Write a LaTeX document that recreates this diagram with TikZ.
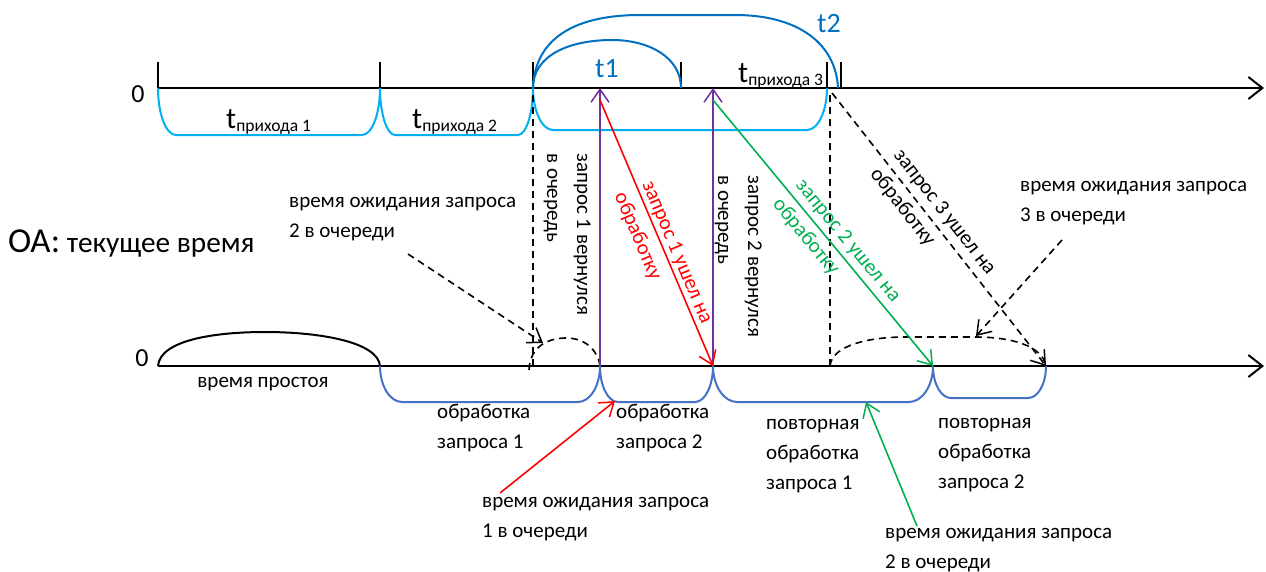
\documentclass[tikz,border=0pt]{standalone}
\usepackage{fontspec}
\setmainfont{Carlito}
\usetikzlibrary{arrows.meta}
\definecolor{lblue}{RGB}{0,176,240}
\definecolor{dblue}{RGB}{0,112,192}
\definecolor{sblue}{RGB}{68,114,196}
\definecolor{purp}{RGB}{112,48,160}
\definecolor{grn}{RGB}{0,176,80}
\definecolor{rd}{RGB}{255,0,0}
\newcommand{\mlt}[1]{\begin{tabular}[t]{@{}l@{}}#1\end{tabular}}
\newcommand{\tsub}[1]{{\fontsize{30}{30}\selectfont t}{\fontsize{17.5}{17.5}\selectfont\raisebox{-3pt}{#1}}}
\begin{document}
\begin{tikzpicture}[x=1pt,y=-1pt,
  txt/.style={inner sep=0pt,font=\fontsize{21}{30}\selectfont},
  big/.style={inner sep=0pt,font=\fontsize{26}{26}\selectfont},
  tlab/.style={inner sep=0pt,font=\fontsize{28}{28}\selectfont,text=dblue},
  axisline/.style={line width=2pt,-{Straight Barb[length=14pt,width=22pt,line width=2pt]}},
  tickline/.style={line width=2pt},
  tip/.style={-{Straight Barb[length=13pt,width=18pt,line width=1.5pt]}},
  dashln/.style={line width=1.6pt,dash pattern=on 7pt off 5pt},
  lbr/.style={draw=lblue,line width=2pt},
  sbr/.style={draw=sblue,line width=2pt},
  tarc/.style={draw=dblue,line width=2pt},
]
\useasboundingbox (0,0) rectangle (1266,571);

% ---------- top axis ----------
\coordinate (ta0) at (158,88);
\coordinate (ta1) at (1264,88);
\draw[axisline] (ta0) -- (ta1);
\foreach \x in {158,380,533,681,827,841} \draw[tickline] (\x,62) -- (\x,88);
\node[big,anchor=base] (zeroA) at (138,102) {0};

% arrival intervals
\draw[lbr] (158,88) .. controls (158,114) and (166,135) .. (176,135) -- (362,135) .. controls (372,135) and (380,114) .. (380,88);
\draw[lbr] (380,88) .. controls (380,114) and (387,135) .. (395,135) -- (518,135) .. controls (526,135) and (533,114) .. (533,88);
\draw[lbr] (533,88) .. controls (533,111) and (542,130) .. (553,130) -- (807,130) .. controls (818,130) and (827,111) .. (827,88);
\node[inner sep=0pt,anchor=base west] (tp1) at (226,128) {\tsub{прихода 1}};
\node[inner sep=0pt,anchor=base west] (tp2) at (412,128) {\tsub{прихода 2}};
\node[inner sep=0pt,anchor=base west] (tp3) at (738,82) {\tsub{прихода 3}};

% t1, t2 arcs
\draw[tarc] (533,88) .. controls (533,55) and (570,40) .. (612,40) .. controls (650,40) and (681,58) .. (681,88);
\draw[tarc] (533,88) .. controls (535,35) and (580,15) .. (640,15) -- (735,15) .. controls (800,15) and (836,45) .. (838,88);
\node[tlab,anchor=base] (t1) at (607,77) {t1};
\node[tlab,anchor=base] (t2) at (829,32) {t2};

% ---------- bottom axis ----------
\coordinate (ba0) at (158,366);
\coordinate (ba1) at (1264,366);
\draw[axisline] (ba0) -- (ba1);
\node[big,anchor=base] (zeroB) at (142,366) {0};

\draw[line width=2pt] (158,366) .. controls (160,340) and (215,332) .. (265,332) .. controls (320,332) and (378,342) .. (380,366);
\node[txt,anchor=base] (idle) at (263,387) {время простоя};

\draw[sbr] (380,366) .. controls (380,386) and (390,402) .. (402,402) -- (578,402) .. controls (590,402) and (600,386) .. (600,366);
\draw[sbr] (600,366) .. controls (600,386) and (608,402) .. (618,402) -- (695,402) .. controls (705,402) and (713,386) .. (713,366);
\draw[sbr] (713,366) .. controls (713,386) and (724,402) .. (737,402) -- (909,402) .. controls (922,402) and (933,386) .. (933,366);
\draw[sbr] (933,366) .. controls (933,384) and (941,398) .. (951,398) -- (1028,398) .. controls (1038,398) and (1046,384) .. (1046,366);

\node[txt,anchor=base west] (p1) at (437,418) {\mlt{обработка\\запроса 1}};
\node[txt,anchor=base west] (p2) at (616,418) {\mlt{обработка\\запроса 2}};
\node[txt,anchor=base west] (p3) at (766,429) {\mlt{повторная\\обработка\\запроса 1}};
\node[txt,anchor=base west] (p4) at (938,428) {\mlt{повторная\\обработка\\запроса 2}};

% waiting arcs (dashed)
\draw[dashln] (529,370) .. controls (530,345) and (550,338) .. (566,338) .. controls (585,338) and (598,350) .. (600,366);
\draw[dashln] (830,366) .. controls (832,345) and (870,337) .. (905,337) -- (975,337) .. controls (1010,337) and (1042,345) .. (1046,366);

% ---------- title ----------
\node[inner sep=0pt,anchor=base west] (oa) at (8,252) {{\fontsize{35}{35}\selectfont ОА:}{\fontsize{29.3}{29.3}\selectfont\ текущее время}};

% ---------- connectors between axes ----------
\coordinate (q1top) at (533,95);
\coordinate (q1bot) at (533,366);
\coordinate (q3top) at (830,95);
\coordinate (q3bot) at (830,366);
\draw[dashln] (q1top) -- (q1bot);
\draw[dashln] (q3top) -- (q3bot);

\coordinate (r1b) at (600,366);
\coordinate (r1t) at (600,88);
\coordinate (r2b) at (713,366);
\coordinate (r2t) at (713,88);
\draw[purp,line width=1.6pt,tip] (r1b) -- (r1t);
\draw[purp,line width=1.6pt,tip] (r2b) -- (r2t);

\node[txt,rotate=-90,anchor=base west] (ret1) at (577,153) {\mlt{запрос 1 вернулся\\в очередь}};
\node[txt,rotate=-90,anchor=base west] (ret2) at (748,175) {\mlt{запрос 2 вернулся\\в очередь}};

\coordinate (s1a) at (600,100);
\coordinate (s1b) at (713,366);
\draw[rd,line width=1.6pt,tip] (s1a) -- (s1b);
\node[txt,text=rd,rotate=-67,anchor=base west] (l1) at (642,184) {\mlt{запрос 1 ушел на\\обработку}};

\coordinate (s2a) at (713,100);
\coordinate (s2b) at (933,366);
\draw[grn,line width=1.6pt,tip] (s2a) -- (s2b);
\node[txt,text=grn,rotate=-50.4,anchor=base west] (l2) at (795,185.5) {\mlt{запрос 2 ушел на\\обработку}};

\coordinate (s3a) at (832,93);
\coordinate (s3b) at (1046,366);
\draw[dashln,tip] (s3a) -- (s3b);
\node[txt,rotate=-51.9,anchor=base west] (l3) at (893,155.5) {\mlt{запрос 3 ушел на\\обработку}};

% ---------- waiting-time notes ----------
\node[txt,anchor=base west] (w2a) at (289,207) {\mlt{время ожидания запроса\\2 в очереди}};
\coordinate (w2as) at (408,254);
\coordinate (w2ae) at (543,343);
\draw[dashln,tip] (w2as) -- (w2ae);

\node[txt,anchor=base west] (w3) at (1020,191) {\mlt{время ожидания запроса\\3 в очереди}};
\coordinate (w3s) at (1062,240);
\coordinate (w3e) at (976,336);
\draw[dashln,tip] (w3s) -- (w3e);

\node[txt,anchor=base west] (w1) at (482,507) {\mlt{время ожидания запроса\\1 в очереди}};
\coordinate (w1s) at (500,493);
\coordinate (w1e) at (615,401);
\draw[rd,line width=1.6pt,tip] (w1s) -- (w1e);

\node[txt,anchor=base west] (w2b) at (885,538) {\mlt{время ожидания запроса\\2 в очереди}};
\coordinate (w2bs) at (917,526);
\coordinate (w2be) at (866,402);
\draw[grn,line width=1.6pt,tip] (w2bs) -- (w2be);
\end{tikzpicture}
\end{document}
